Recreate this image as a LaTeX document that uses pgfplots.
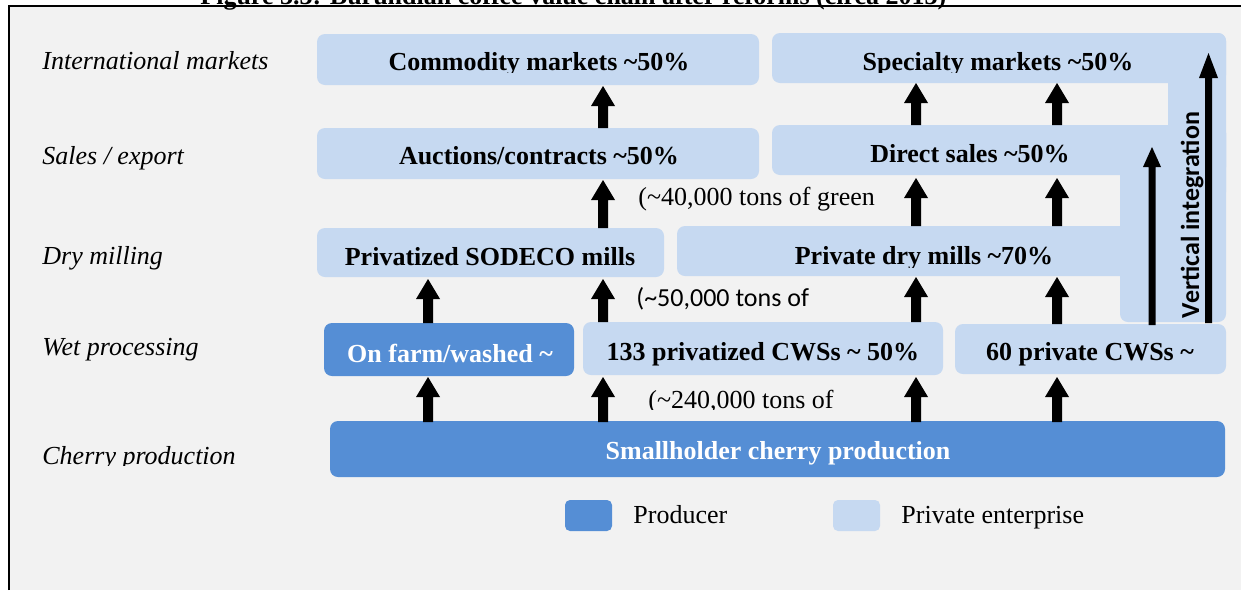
\documentclass[border=0pt]{standalone}
\usepackage{fontspec}
\setmainfont{Liberation Serif}
\newfontfamily\calibri{Carlito}
\usepackage{pgfplots}
\pgfplotsset{compat=1.18}
\definecolor{prod}{RGB}{85,142,213}
\definecolor{priv}{RGB}{198,217,241}
\definecolor{bg}{RGB}{242,242,242}
\newcommand\T{\textasciitilde}
\begin{document}
\begin{tikzpicture}[
  fs/.style={font=\fontsize{13}{15}\selectfont},
  lab/.style={font=\fontsize{13}{15}\selectfont\itshape, anchor=base west, inner sep=0pt},
  bx/.style={font=\fontsize{13}{15}\selectfont\bfseries, anchor=base, inner sep=0pt},
  txt/.style={font=\fontsize{13}{15}\selectfont, anchor=base west, inner sep=0pt}]
\begin{axis}[name=ax, width=620.5pt, height=295pt, scale only axis,
  xmin=0, xmax=1241, ymin=0, ymax=590, y dir=reverse,
  hide axis, clip=false, no markers]
% background and frame
\addplot[fill=bg, draw=none] coordinates {(9,6) (1241,6) (1241,590) (9,590)};
\addplot[black, line width=1pt] coordinates {(9,590) (9,6) (1241,6)};
% boxes: private enterprise
\addplot[fill=priv, draw=none, rounded corners=4pt] coordinates {(538,34) (759,34) (759,85) (317,85) (317,34) (538,34)};
\addplot[fill=priv, draw=none, rounded corners=4pt] coordinates {(538,128) (759,128) (759,179) (317,179) (317,128) (538,128)};
\addplot[fill=priv, draw=none, rounded corners=4pt] coordinates {(490,228) (664,228) (664,277) (317,277) (317,228) (490,228)};
\addplot[fill=priv, draw=none, rounded corners=4pt] coordinates {(1000,33) (1226,33) (1226,83) (772,83) (772,33) (1000,33)};
\addplot[fill=priv, draw=none, rounded corners=4pt] coordinates {(1000,125) (1226,125) (1226,175) (772,175) (772,125) (1000,125)};
\addplot[fill=priv, draw=none, rounded corners=4pt] coordinates {(900,226) (1140,226) (1140,276) (677,276) (677,226) (900,226)};
\addplot[fill=priv, draw=none, rounded corners=4pt] coordinates {(1197,33) (1226,33) (1226,200) (1168,200) (1168,33) (1197,33)};
\addplot[fill=priv, draw=none, rounded corners=4pt] coordinates {(1173,125) (1226,125) (1226,322) (1120,322) (1120,125) (1173,125)};
\addplot[fill=priv, draw=none, rounded corners=4pt] coordinates {(763,322) (943,322) (943,375) (583,375) (583,322) (763,322)};
\addplot[fill=priv, draw=none, rounded corners=4pt] coordinates {(1090,324) (1226,324) (1226,374) (955,374) (955,324) (1090,324)};
% boxes: producer
\addplot[fill=prod, draw=none, rounded corners=4pt] coordinates {(449,323) (574,323) (574,376) (324,376) (324,323) (449,323)};
\addplot[fill=prod, draw=none, rounded corners=4pt] coordinates {(778,421) (1225,421) (1225,477) (330,477) (330,421) (778,421)};
% legend swatches
\addplot[fill=prod, draw=none, rounded corners=2.5pt] coordinates {(588,500) (612,500) (612,531) (565,531) (565,500) (588,500)};
\addplot[fill=priv, draw=none, rounded corners=2.5pt] coordinates {(856,500) (880,500) (880,531) (833,531) (833,500) (856,500)};
% block arrows level 1
\addplot[fill=black, draw=none] coordinates {(423,422)(423,397)(416,397)(428,377)(440,397)(433,397)(433,422)};
\addplot[fill=black, draw=none] coordinates {(598,422)(598,397)(591,397)(603,377)(615,397)(608,397)(608,422)};
\addplot[fill=black, draw=none] coordinates {(911,422)(911,397)(904,397)(916,377)(928,397)(921,397)(921,422)};
\addplot[fill=black, draw=none] coordinates {(1052,422)(1052,397)(1045,397)(1057,377)(1069,397)(1062,397)(1062,422)};
% level 2
\addplot[fill=black, draw=none] coordinates {(423,323)(423,299)(416,299)(428,279)(440,299)(433,299)(433,323)};
\addplot[fill=black, draw=none] coordinates {(598,322)(598,299)(591,299)(603,279)(615,299)(608,299)(608,322)};
\addplot[fill=black, draw=none] coordinates {(911,322)(911,297)(904,297)(916,277)(928,297)(921,297)(921,322)};
\addplot[fill=black, draw=none] coordinates {(1052,324)(1052,297)(1045,297)(1057,277)(1069,297)(1062,297)(1062,324)};
% level 3
\addplot[fill=black, draw=none] coordinates {(598,228)(598,200)(591,200)(603,180)(615,200)(608,200)(608,228)};
\addplot[fill=black, draw=none] coordinates {(911,226)(911,198)(904,198)(916,178)(928,198)(921,198)(921,226)};
\addplot[fill=black, draw=none] coordinates {(1052,226)(1052,198)(1045,198)(1057,178)(1069,198)(1062,198)(1062,226)};
% level 4
\addplot[fill=black, draw=none] coordinates {(598,128)(598,106)(591,106)(603,86)(615,106)(608,106)(608,128)};
\addplot[fill=black, draw=none] coordinates {(911,125)(911,103)(904,103)(916,83)(928,103)(921,103)(921,125)};
\addplot[fill=black, draw=none] coordinates {(1052,125)(1052,103)(1045,103)(1057,83)(1069,103)(1062,103)(1062,125)};
% vertical integration arrows
\addplot[fill=black, draw=none] coordinates {(1205,323)(1205,78)(1199,78)(1208.5,53)(1218,78)(1212,78)(1212,323)};
\addplot[fill=black, draw=none] coordinates {(1148.5,325)(1148.5,167)(1143,167)(1152,147)(1161,167)(1155.5,167)(1155.5,325)};
% title (cut by the top edge, as in the reference)
\node[bx, anchor=base west] at (axis cs:200,4) {Figure 3.3: Burundian coffee value chain after reforms (circa 2013)};
% row labels
\node[lab] at (axis cs:42,69) {International markets};
\node[lab] at (axis cs:42,164) {Sales / export};
\node[lab] at (axis cs:42,264) {Dry milling};
\node[lab] at (axis cs:42,355) {Wet processing};
\begin{scope}
\clip (axis cs:30,430) rectangle (axis cs:300,465);
\node[lab] at (axis cs:42,464) {Cherry production};
\end{scope}
% box texts
\begin{scope}
\clip (axis cs:320,40) rectangle (axis cs:1160,72);
\node[bx] at (axis cs:539,70) {Commodity markets \T50\%};
\node[bx] at (axis cs:998,70) {Specialty markets \T50\%};
\end{scope}
\node[bx] at (axis cs:539,164) {Auctions/contracts \T50\%};
\node[bx] at (axis cs:970,162) {Direct sales \T50\%};
\node[bx] at (axis cs:490,265) {Privatized SODECO mills};
\begin{scope}
\clip (axis cs:700,230) rectangle (axis cs:1110,267);
\node[bx] at (axis cs:924,264) {Private dry mills \T70\%};
\end{scope}
\node[bx, text=white] at (axis cs:450,362) {On farm/washed \T};
\node[bx] at (axis cs:763,360) {133 privatized CWSs \T{} 50\%};
\node[bx] at (axis cs:1090,360) {60 private CWSs \T};
\node[bx, text=white] at (axis cs:778,459) {Smallholder cherry production};
% volume notes
\node[txt] at (axis cs:638,205) {(\T40,000 tons of green};
\node[txt, font=\fontsize{13}{15}\selectfont\calibri] at (axis cs:636,306) {(\T50,000 tons of};
\begin{scope}
\clip (axis cs:640,385) rectangle (axis cs:850,409.5);
\node[txt] at (axis cs:648,408) {(\T240,000 tons of};
\end{scope}
\node[bx, font=\fontsize{13}{15}\selectfont\calibri\bfseries, rotate=90] at (axis cs:1199,215) {Vertical integration};
% legend text
\node[txt] at (axis cs:633,523) {Producer};
\node[txt] at (axis cs:901,523) {Private enterprise};
\end{axis}
\pgfresetboundingbox
\path[use as bounding box] (ax.south west) rectangle (ax.north east);
\end{tikzpicture}
\end{document}
